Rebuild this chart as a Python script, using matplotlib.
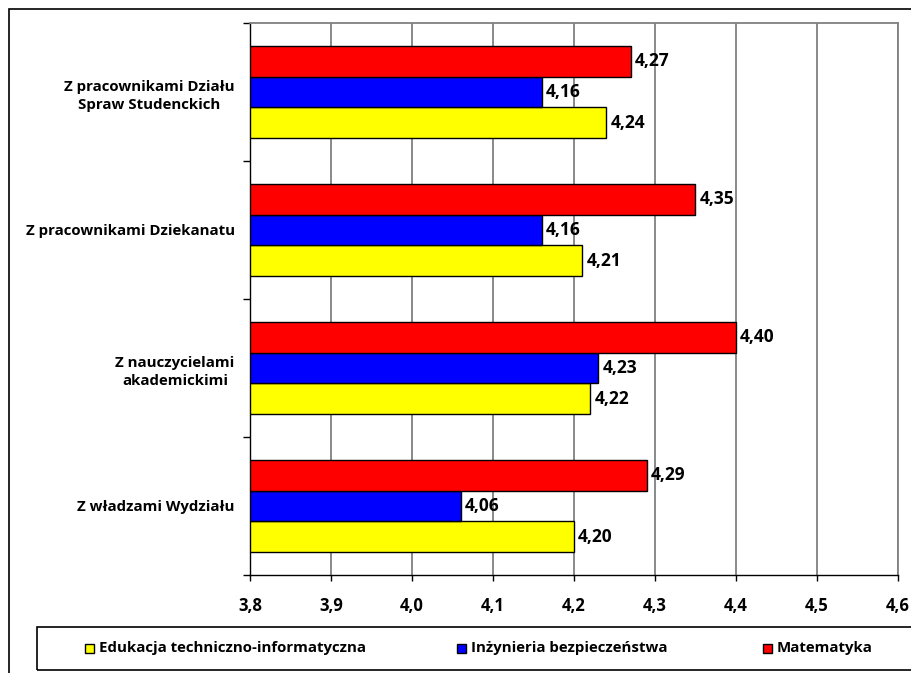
import numpy as np
import matplotlib
matplotlib.use("Agg")
import matplotlib.pyplot as plt
from matplotlib.patches import Rectangle
from matplotlib.ticker import FixedLocator, FuncFormatter

plt.rcParams['font.family'] = ['Open Sans', 'DejaVu Sans']
plt.rcParams['font.weight'] = 'bold'

categories = [
    "Z pracownikami Działu\nSpraw Studenckich",
    "Z pracownikami Dziekanatu",
    "Z nauczycielami\nakademickimi",
    "Z władzami Wydziału",
]
series_names = [
    "Edukacja techniczno-informatyczna",
    "Inżynieria bezpieczeństwa",
    "Matematyka",
]
edukacja = [4.24, 4.21, 4.22, 4.20]
inzynieria = [4.16, 4.16, 4.23, 4.06]
matematyka = [4.27, 4.35, 4.40, 4.29]
series_colors = ["#ffff00", "#0000ff", "#ff0000"]

FS = 10.8      # category and legend text
FS_NUM = 12.5  # value labels
FS_TICK = 12   # x tick labels
W, H = 912, 673
fig = plt.figure(figsize=(W / 100, H / 100), dpi=100)
ax = fig.add_axes([250 / W, 1 - 575 / H, (898 - 250) / W, (575 - 23) / H])

y = np.arange(len(categories))
bh = 0.222
# red on top, then blue, then yellow within each group (axis inverted)
offsets = [bh, 0.0, -bh]
for vals, col, off in zip([edukacja, inzynieria, matematyka], series_colors, offsets):
    bars = ax.barh(y + off, np.array(vals) - 3.8, left=3.8, height=bh,
                   color=col, edgecolor='black', linewidth=1.0, zorder=3)
    for b, v in zip(bars, vals):
        ax.annotate(f"{v:.2f}".replace('.', ','), (v, b.get_y() + b.get_height() / 2),
                    xytext=(3, 0), textcoords='offset points', ha='left', va='center',
                    fontsize=FS_NUM, fontweight='bold', color='black', zorder=4)

ax.set_xlim(3.8, 4.6)
ax.set_ylim(len(categories) - 0.5, -0.5)

xt = np.round(np.arange(3.8, 4.61, 0.1), 1)
ax.set_xticks(xt)
ax.xaxis.set_major_formatter(FuncFormatter(lambda v, p: f"{v:.1f}".replace('.', ',')))
ax.tick_params(axis='x', direction='out', length=4, width=1, pad=12,
               labelsize=FS_TICK, colors='black')
for lab in ax.get_xticklabels():
    lab.set_fontweight('bold')

ax.set_yticks(y)
ax.set_yticklabels(categories, multialignment='center', fontsize=FS, fontweight='bold',
                   linespacing=1.45)
ax.tick_params(axis='y', which='major', length=0, pad=11)
ax.yaxis.set_minor_locator(FixedLocator(np.arange(-0.5, len(categories), 1.0)))
ax.tick_params(axis='y', which='minor', direction='out', length=5, width=1, color='black')

ax.grid(axis='x', color='#808080', linewidth=1.3, zorder=0)
ax.set_axisbelow(True)
for side in ['top', 'right']:
    ax.spines[side].set_color('#808080')
    ax.spines[side].set_linewidth(1.3)
for side in ['left', 'bottom']:
    ax.spines[side].set_color('black')
    ax.spines[side].set_linewidth(1.0)

# outer chart frame
fig.patches.append(Rectangle((9 / W, -0.1), 1.2, 1.1 - 9 / H, transform=fig.transFigure,
                             fill=False, edgecolor='black', linewidth=1.2))

# legend box
fig.patches.append(Rectangle((37 / W, 1 - 670 / H), 1.0, 43 / H, transform=fig.transFigure,
                             fill=False, edgecolor='black', linewidth=1.2))
legend_x = [85, 457, 763]
ly = 1 - 648 / H
for name, col, lx in zip(series_names, series_colors, legend_x):
    fig.patches.append(Rectangle((lx / W, ly - 4.5 / H), 9 / W, 9 / H, transform=fig.transFigure,
                                 facecolor=col, edgecolor='black', linewidth=1.0))
    fig.text((lx + 14) / W, ly, name, ha='left', va='center', fontsize=FS, fontweight='bold')

fig.savefig("out.png", dpi=100)
